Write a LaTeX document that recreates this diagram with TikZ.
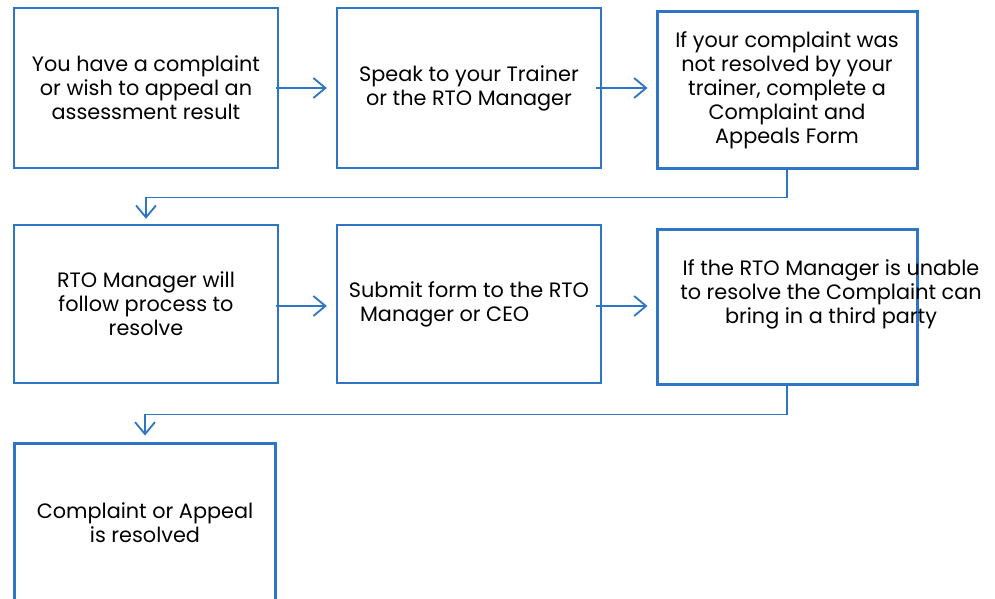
\documentclass[tikz,border=0pt]{standalone}
\usepackage{fontspec}
\setmainfont{Poppins}
\usepackage{xcolor}
\usetikzlibrary{arrows.meta, positioning}
\definecolor{flowblue}{RGB}{46,117,198}
\tikzset{
  box/.style={draw=flowblue, line width=2.4pt, minimum width=264pt, minimum height=160pt,
    inner sep=0pt, align=center, text=black},
  thickbox/.style={box, line width=3pt},
  flow/.style={draw=flowblue, line width=1.8pt,
    -{Straight Barb[length=12pt,width=20pt,line width=1.8pt]}},
}
\begin{document}
\begin{tikzpicture}[x=1pt,y=-1pt,font=\fontsize{20.8}{24}\selectfont]
  \useasboundingbox (0,0) rectangle (995,599);
  % first row
  \node[box] (box1) at (146,88) {You have a complaint\\or wish to appeal an\\assessment result};
  \node[box] (box2) at (469,88) {Speak to your Trainer\\or the RTO Manager};
  \node[thickbox, minimum width=260pt, minimum height=156pt] (box3) at (787,90)
    {If your complaint was\\not resolved by your\\trainer, complete a\\Complaint and\\Appeals Form};
  % second row
  \node[box, minimum height=158pt] (box4) at (146,304) {RTO Manager will\\follow process to\\resolve};
  \node[box, minimum height=158pt, align=left] (box5) at (469,304) {Submit form to the RTO\\\ \ Manager or CEO};
  \node[thickbox, minimum width=260pt, minimum height=155pt] (box6) at (787,306.5) {};
  \node[align=center, inner sep=0pt] (txt6) at (831,294)
    {If the RTO Manager is unable\\to resolve the Complaint can\\bring in a third party};
  % last row
  \node[thickbox, minimum width=261pt] (box7) at (145,523) {Complaint or Appeal\\is resolved};
  % connectors
  \draw[flow, shorten <=-3pt, shorten >=9pt] (box1.east) -- (box1.east -| box2.west);
  \draw[flow, shorten <=-6pt, shorten >=8pt] (box2.east) -- (box2.east -| box3.west);
  \draw[flow, shorten <=-3pt, shorten >=9pt] ([yshift=-2pt]box4.east) -- ([yshift=-2pt]box4.east -| box5.west);
  \draw[flow, shorten <=-6pt, shorten >=8pt] ([yshift=-2pt]box5.east) -- ([yshift=-2pt]box5.east -| box6.west);
  \draw[flow, shorten >=5pt] (box3.south) -- ++(0,28) -| (box4.north);
  \draw[flow, shorten >=6pt] (box6.south) -- ++(0,29) -| (box7.north);
\end{tikzpicture}
\end{document}
